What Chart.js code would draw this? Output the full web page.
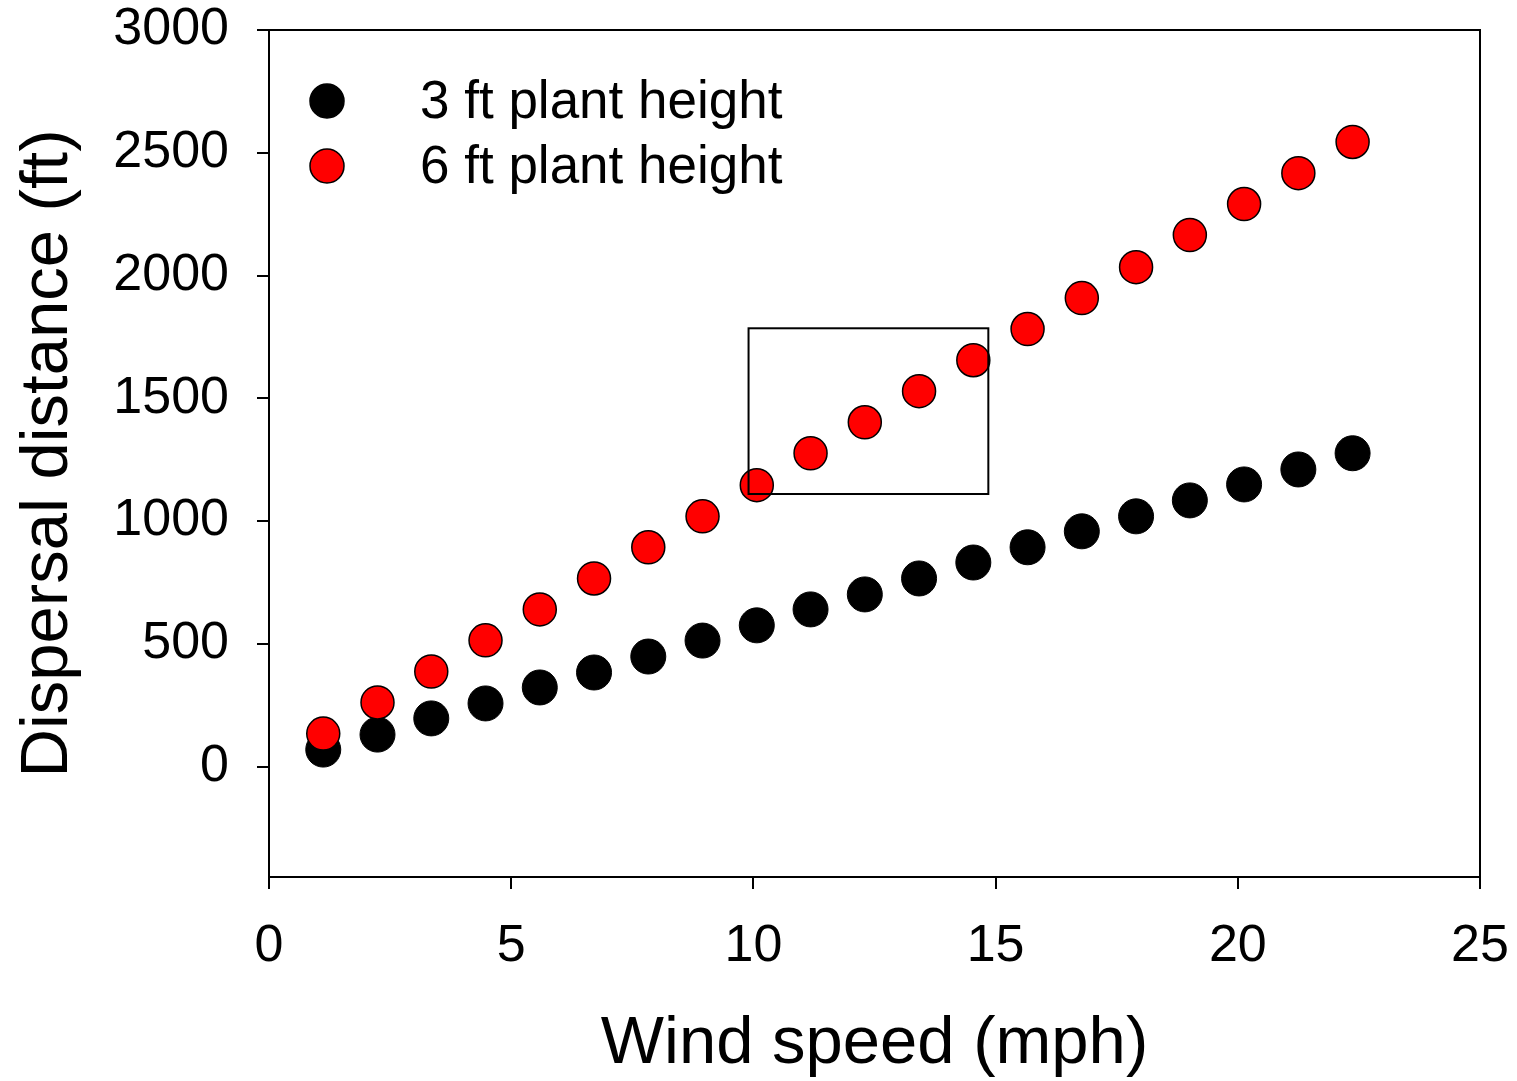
<!DOCTYPE html>
<html>
<head>
<meta charset="utf-8">
<title>Dispersal distance vs wind speed</title>
<script src="https://cdn.jsdelivr.net/npm/chart.js@4.4.1/dist/chart.umd.min.js"></script>
<style>
    body { margin: 0; background: #fff; }
    #wrap { width: 1517px; height: 1081px; }
</style>
</head>
<body>
<div id="wrap"><canvas id="chart"></canvas></div>
<script>
// values
const windSpeed = [1.12, 2.24, 3.35, 4.47, 5.59, 6.71, 7.83, 8.95, 10.07, 11.18,
                   12.30, 13.42, 14.54, 15.66, 16.78, 17.90, 19.01, 20.13, 21.25, 22.37];
const dist3ft = [69, 130, 196, 257, 322, 383, 448, 513, 575, 640,
                 701, 766, 831, 893, 958, 1019, 1084, 1149, 1210, 1276];
const dist6ft = [134, 261, 387, 514, 640, 766, 893, 1019, 1146, 1276,
                 1402, 1529, 1655, 1782, 1908, 2034, 2165, 2291, 2417, 2544];
const seriesNames = ["3 ft plant height", "6 ft plant height"];
const yTicks = [0, 500, 1000, 1500, 2000, 2500, 3000];
// highlighted region (x from..to, y from..to)
const boxX = [9.9, 14.85];
const boxY = [1110, 1785];

const FONT = "'Liberation Sans', Arial, sans-serif";

function toPoints(xs, ys) {
    return xs.map((x, i) => ({ x: x, y: ys[i] }));
}

// top and right frame lines + the rectangle
const framePlugin = {
    id: "frame",
    afterDatasetsDraw(chart) {
        const ctx = chart.ctx;
        const a = chart.chartArea;
        const xs = chart.scales.x, ys = chart.scales.y;
        ctx.save();
        ctx.strokeStyle = "#000";
        ctx.lineWidth = 2;
        ctx.beginPath();
        ctx.moveTo(a.left, a.top);
        ctx.lineTo(a.right, a.top);
        ctx.lineTo(a.right, a.bottom);
        ctx.stroke();

        const x0 = xs.getPixelForValue(boxX[0]), x1 = xs.getPixelForValue(boxX[1]);
        const y0 = ys.getPixelForValue(boxY[1]), y1 = ys.getPixelForValue(boxY[0]);
        ctx.strokeRect(x0, y0, x1 - x0, y1 - y0);
        ctx.restore();
    }
};

// legend sits inside the plot, top left
const legendPlugin = {
    id: "insideLegend",
    afterDraw(chart) {
        const ctx = chart.ctx;
        const a = chart.chartArea;
        const rows = [
            { label: seriesNames[0], fill: "#000000", y: a.top + 71 },
            { label: seriesNames[1], fill: "#ff0000", y: a.top + 136 }
        ];
        ctx.save();
        ctx.font = "53px " + FONT;
        ctx.textBaseline = "middle";
        ctx.textAlign = "left";
        rows.forEach(r => {
            ctx.beginPath();
            ctx.arc(a.left + 58, r.y, 17, 0, Math.PI * 2);
            ctx.fillStyle = r.fill;
            ctx.fill();
            ctx.lineWidth = 1.5;
            ctx.strokeStyle = "#000";
            ctx.stroke();
            ctx.fillStyle = "#000";
            ctx.fillText(r.label, a.left + 151, r.y + 2);
        });
        ctx.restore();
    }
};

const ctx = document.getElementById("chart").getContext("2d");
new Chart(ctx, {
    type: "scatter",
    data: {
        datasets: [
            {
                label: seriesNames[0],
                data: toPoints(windSpeed, dist3ft),
                backgroundColor: "#000000",
                borderColor: "#000000",
                borderWidth: 1,
                pointRadius: 17.5,
                pointHoverRadius: 17.5,
                order: 1
            },
            {
                label: seriesNames[1],
                data: toPoints(windSpeed, dist6ft),
                backgroundColor: "#ff0000",
                borderColor: "#000000",
                borderWidth: 1.5,
                pointRadius: 16.5,
                pointHoverRadius: 16.5,
                order: 0
            }
        ]
    },
    options: {
        responsive: true,
        maintainAspectRatio: false,
        animation: false,
        layout: { padding: { left: 0, right: 37, top: 30, bottom: 0 } },
        plugins: {
            legend: { display: false },
            tooltip: { enabled: false }
        },
        scales: {
            x: {
                type: "linear",
                min: 0,
                max: 25,
                ticks: {
                    stepSize: 5,
                    color: "#000",
                    font: { family: FONT, size: 52 },
                    padding: 26,
                    maxRotation: 0,
                    callback: v => String(v)
                },
                grid: {
                    drawOnChartArea: false,
                    drawTicks: true,
                    tickLength: 12,
                    color: "#000",
                    lineWidth: 2
                },
                border: { display: true, color: "#000", width: 2 },
                title: {
                    display: true,
                    text: "Wind speed (mph)",
                    color: "#000",
                    font: { family: FONT, size: 67 },
                    padding: { top: 0, bottom: -4 }
                },
                afterFit(scale) {
                    scale.height = 204;
                    scale.paddingLeft = 0;
                    scale.paddingRight = 0;
                }
            },
            y: {
                type: "linear",
                min: -450,
                max: 3000,
                afterBuildTicks(scale) {
                    scale.ticks = yTicks.map(v => ({ value: v }));
                },
                ticks: {
                    color: "#000",
                    font: { family: FONT, size: 52 },
                    padding: 28,
                    callback: v => String(v)
                },
                grid: {
                    drawOnChartArea: false,
                    drawTicks: true,
                    tickLength: 12,
                    color: "#000",
                    lineWidth: 2
                },
                border: { display: true, color: "#000", width: 2 },
                title: {
                    display: true,
                    text: "Dispersal distance (ft)",
                    color: "#000",
                    font: { family: FONT, size: 67 },
                    padding: { top: 8, bottom: 0 }
                },
                afterFit(scale) {
                    scale.width = 269;
                    scale.paddingTop = 0;
                    scale.paddingBottom = 0;
                }
            }
        }
    },
    plugins: [framePlugin, legendPlugin]
});
</script>
</body>
</html>
